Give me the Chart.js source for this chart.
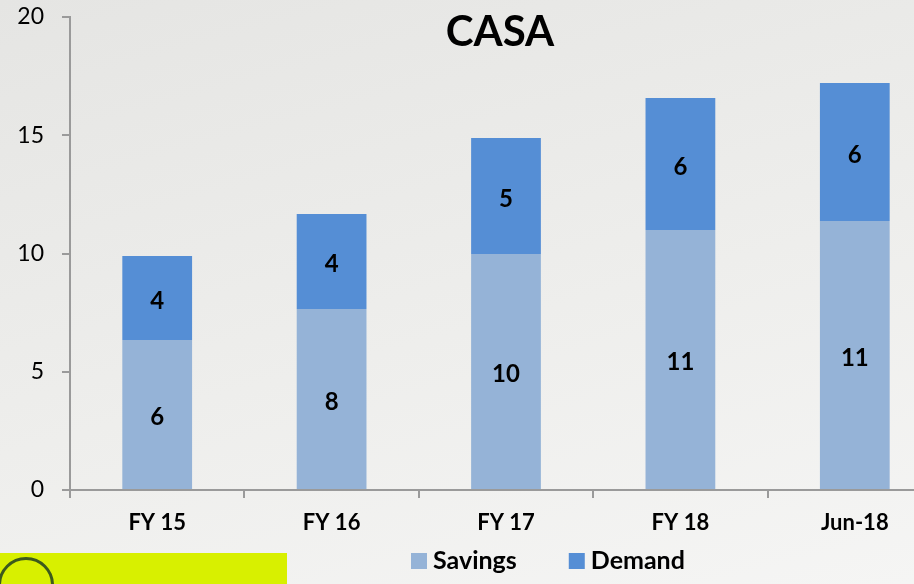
<!DOCTYPE html>
<html>
<head>
<meta charset="utf-8">
<script src="https://cdn.jsdelivr.net/npm/chart.js@4.4.1/dist/chart.umd.min.js"></script>
<style>
  html, body { margin: 0; padding: 0; width: 914px; height: 584px; overflow: hidden; }
  body { position: relative; background: linear-gradient(165deg, #e5e5e3 0%, #eeeeec 55%, #f5f5f4 100%); }
  #wrap { position: absolute; left: 0; top: 0; width: 960px; height: 584px; }
  #badge { position: absolute; left: 0; top: 553px; width: 287px; height: 31px; background: #d8f000; overflow: hidden; }
  #badge span { position: absolute; left: -2px; top: 4px; width: 50px; height: 50px; border: 3px solid #3c5a1c; border-radius: 50%; }
</style>
</head>
<body>
<div id="wrap"><canvas id="casaChart"></canvas></div>
<div id="badge"><span></span></div>
<script>
let categories = ["FY 15", "FY 16", "FY 17", "FY 18", "Jun-18"];
let savings = [6.34, 7.65, 9.98, 10.99, 11.37];
let demand = [3.55, 4.02, 4.9, 5.58, 5.84];
let yTicks = [0, 5, 10, 15, 20];
let chartTitle = "CASA";

const FONT = "Lato";
const AXIS_GREY = "#9a9a9a";

//Numbers in the middle of each bar piece
const barLabels = {
  id: "barLabels",
  afterDatasetsDraw(chart) {
    let ctx = chart.ctx;
    ctx.save();
    ctx.font = `bold 24px ${FONT}`;
    ctx.fillStyle = "#000";
    ctx.textAlign = "center";
    ctx.textBaseline = "middle";
    chart.data.datasets.forEach((ds, i) => {
      chart.getDatasetMeta(i).data.forEach((bar, j) => {
        let mid = (bar.y + bar.base) / 2 + 3;
        ctx.fillText(Math.round(ds.data[j]), bar.x, mid);
      });
    });
    ctx.restore();
  },
};

//Title sits over the plot, and the legend is not centered on the canvas
const titleAndLegend = {
  id: "titleAndLegend",
  afterDraw(chart) {
    let ctx = chart.ctx;
    ctx.save();
    ctx.fillStyle = "#000";
    ctx.textBaseline = "middle";
    ctx.textAlign = "center";
    ctx.font = `bold 42px ${FONT}`;
    ctx.fillText(chartTitle, 500, 32);

    ctx.textAlign = "left";
    ctx.font = `bold 25px ${FONT}`;
    let x = 411;
    chart.data.datasets.forEach((ds) => {
      ctx.fillStyle = ds.backgroundColor;
      ctx.fillRect(x, 553, 16, 16);
      ctx.fillStyle = "#000";
      ctx.fillText(ds.label, x + 22, 561);
      x += 22 + ctx.measureText(ds.label).width + 52;
    });
    ctx.restore();
  },
};

new Chart(document.getElementById("casaChart"), {
  type: "bar",
  data: {
    labels: categories,
    datasets: [
      { label: "Savings", data: savings, backgroundColor: "#95b3d7", borderWidth: 0 },
      { label: "Demand", data: demand, backgroundColor: "#558ed5", borderWidth: 0 },
    ],
  },
  options: {
    responsive: true,
    maintainAspectRatio: false,
    animation: false,
    layout: { padding: { top: 17, right: 18, left: 0, bottom: 0 } },
    datasets: { bar: { categoryPercentage: 1, barPercentage: 0.4 } },
    plugins: {
      legend: { display: false },
      title: { display: false },
      tooltip: { enabled: false },
    },
    scales: {
      x: {
        stacked: true,
        afterFit: (scale) => { scale.height = 94; },
        border: { color: AXIS_GREY, width: 2 },
        grid: { offset: true, drawOnChartArea: false, drawTicks: true, tickLength: 8, color: AXIS_GREY, lineWidth: 2 },
        ticks: { color: "#000", padding: 12, font: { family: FONT, size: 22, weight: "bold" } },
      },
      y: {
        stacked: true,
        min: 0,
        max: 20,
        afterFit: (scale) => {
          scale.width = 70;
          scale.paddingTop = 0;
          scale.paddingBottom = 0;
        },
        afterBuildTicks: (scale) => { scale.ticks = yTicks.map((v) => ({ value: v })); },
        border: { color: AXIS_GREY, width: 2 },
        grid: { drawOnChartArea: false, drawTicks: true, tickLength: 8, color: AXIS_GREY, lineWidth: 2 },
        ticks: { color: "#000", padding: 18, font: { family: FONT, size: 23 } },
      },
    },
  },
  plugins: [barLabels, titleAndLegend],
});
</script>
</body>
</html>
